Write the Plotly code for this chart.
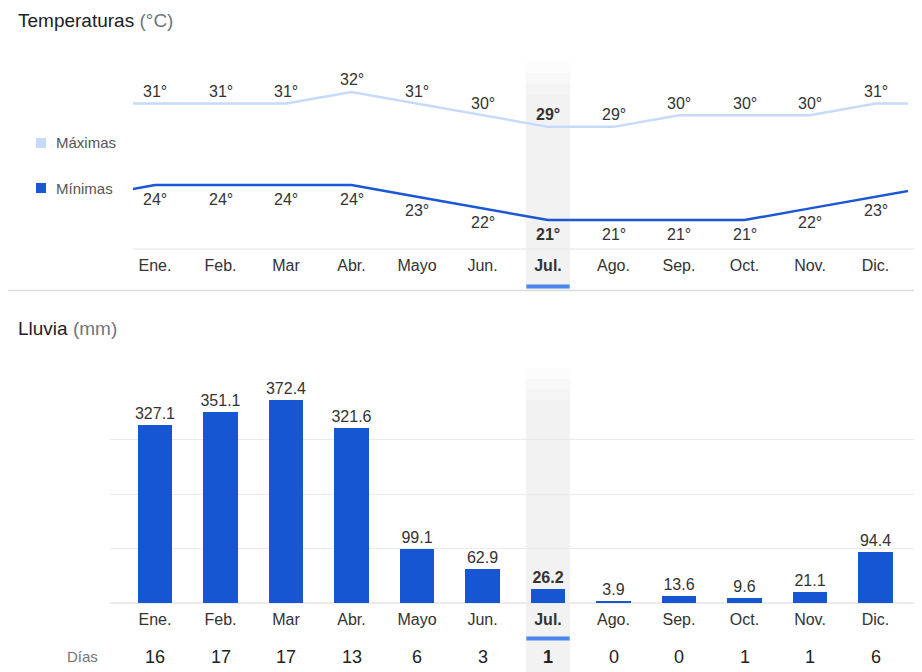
import plotly.graph_objects as go

months = ["Ene.", "Feb.", "Mar", "Abr.", "Mayo", "Jun.", "Jul.", "Ago.", "Sep.", "Oct.", "Nov.", "Dic."]
t_max = [31, 31, 31, 32, 31, 30, 29, 29, 30, 30, 30, 31]
t_min = [24, 24, 24, 24, 23, 22, 21, 21, 21, 21, 22, 23]
rain = [327.1, 351.1, 372.4, 321.6, 99.1, 62.9, 26.2, 3.9, 13.6, 9.6, 21.1, 94.4]
rain_days = [16, 17, 17, 13, 6, 3, 1, 0, 0, 1, 1, 6]
rain_grid = [0, 100, 200, 300]
current = 6  # Jul.

OFF = 8  # page body margin
W, H = 922 - OFF, 672 - OFF
FONT = "Liberation Sans, Arial, sans-serif"
C_MAX = "#c6dafc"
C_MIN = "#1a56d6"
C_BAR = "#1656d2"
C_TXT = "#333333"
C_GREY = "#70757a"


def py(px):
    return 1 - (px - OFF) / H


def fx(px):
    return (px - OFF) / W


def bold(s, i):
    return f"<b>{s}</b>" if i == current else s


idx = list(range(12))
x_ext = [-1] + idx + [12]
max_ext = [t_max[-1]] + t_max + [t_max[0]]
min_ext = [t_min[-1]] + t_min + [t_min[0]]

fig = go.Figure()

# temperature lines
fig.add_trace(go.Scatter(x=x_ext, y=max_ext, mode="lines", line=dict(color=C_MAX, width=2.5),
                         xaxis="x", yaxis="y", hoverinfo="skip", showlegend=False))
fig.add_trace(go.Scatter(x=x_ext, y=min_ext, mode="lines", line=dict(color=C_MIN, width=2.5),
                         xaxis="x", yaxis="y", hoverinfo="skip", showlegend=False))

# rain bars
fig.add_trace(go.Bar(x=idx, y=rain, width=0.53, marker=dict(color=C_BAR, line=dict(width=0)),
                     text=[bold(f"{v:.1f}", i) for i, v in enumerate(rain)],
                     textposition="outside", constraintext="none",
                     textfont=dict(size=16, color=C_TXT, family=FONT),
                     cliponaxis=False, xaxis="x2", yaxis="y2", showlegend=False))

ticktext = [bold(m, i) for i, m in enumerate(months)]

top_lo, top_hi = 18.51, 34.57
fig.update_layout(
    width=W, height=H, autosize=False,
    margin=dict(l=0, r=0, t=0, b=0),
    paper_bgcolor="white", plot_bgcolor="rgba(0,0,0,0)",
    font=dict(family=FONT, color=C_TXT),
    xaxis=dict(domain=[fx(133), fx(908)], range=[(133 - 155) / 65.5, (908 - 155) / 65.5],
               tickvals=idx, ticktext=ticktext, ticks="", showgrid=False, zeroline=False,
               showline=False, tickfont=dict(size=16, color=C_TXT), ticklabelstandoff=5,
               fixedrange=True),
    yaxis=dict(domain=[py(249), py(62)], range=[top_lo, top_hi], visible=False, fixedrange=True),
    xaxis2=dict(domain=[fx(110), 1], range=[(110 - 155) / 65.5, (922 - 155) / 65.5],
                tickvals=idx, ticktext=ticktext, ticks="", showgrid=False, zeroline=False,
                showline=False, tickfont=dict(size=16, color=C_TXT), ticklabelstandoff=5,
                anchor="y2", fixedrange=True),
    yaxis2=dict(domain=[py(603), py(330)], range=[0, 273 / 0.545], anchor="x2",
                showgrid=True, gridcolor="#ebebeb", gridwidth=1.2, tickvals=rain_grid,
                zeroline=True, zerolinecolor="#ebebeb", zerolinewidth=1.5,
                showticklabels=False, ticks="", fixedrange=True),
    bargap=0,
)

shapes = []
half = 0.34
# highlight band for current month (top)
shapes.append(dict(type="rect", xref="x", yref="paper", x0=current - half, x1=current + half,
                   y0=py(290), y1=py(95), fillcolor="#f2f2f2", line=dict(width=0), layer="below"))
for k, a in enumerate([0.25, 0.5, 0.75]):
    shapes.append(dict(type="rect", xref="x", yref="paper", x0=current - half, x1=current + half,
                       y0=py(62 + 11 * (k + 1)), y1=py(62 + 11 * k),
                       fillcolor=f"rgba(242,242,242,{a})", line=dict(width=0), layer="below"))
# highlight band for current month (bottom)
shapes.append(dict(type="rect", xref="x2", yref="paper", x0=current - half, x1=current + half,
                   y0=0, y1=py(400), fillcolor="#f2f2f2", line=dict(width=0), layer="below"))
for k, a in enumerate([0.25, 0.5, 0.75]):
    shapes.append(dict(type="rect", xref="x2", yref="paper", x0=current - half, x1=current + half,
                       y0=py(368 + 11 * (k + 1)), y1=py(368 + 11 * k),
                       fillcolor=f"rgba(242,242,242,{a})", line=dict(width=0), layer="below"))
# axis line top
shapes.append(dict(type="line", xref="paper", yref="paper", x0=fx(133), x1=1, y0=py(249), y1=py(249),
                   line=dict(color="#ececec", width=1.5)))
# divider
shapes.append(dict(type="line", xref="paper", yref="paper", x0=0, x1=1, y0=py(290.5), y1=py(290.5),
                   line=dict(color="#dcdcdc", width=1.5)))
# current month underline
shapes.append(dict(type="rect", xref="x", yref="paper", x0=current - 0.33, x1=current + 0.33,
                   y0=py(288.5), y1=py(284.5), fillcolor="#4a86ee", line=dict(width=0)))
shapes.append(dict(type="rect", xref="x2", yref="paper", x0=current - 0.33, x1=current + 0.33,
                   y0=py(640.5), y1=py(636.5), fillcolor="#4a86ee", line=dict(width=0)))
# legend squares
shapes.append(dict(type="rect", xref="paper", yref="paper", x0=fx(36), x1=fx(46), y0=py(148), y1=py(138),
                   fillcolor=C_MAX, line=dict(width=0)))
shapes.append(dict(type="rect", xref="paper", yref="paper", x0=fx(36), x1=fx(46), y0=py(193), y1=py(183),
                   fillcolor=C_MIN, line=dict(width=0)))
fig.update_layout(shapes=shapes)

ann = [
    dict(text=f"Temperaturas <span style='color:{C_GREY}'>(°C)</span>", x=fx(16), y=py(20),
         font=dict(size=19, color="#202124")),
    dict(text=f"Lluvia <span style='color:{C_GREY}'>(mm)</span>", x=fx(16), y=py(328),
         font=dict(size=19, color="#202124")),
    dict(text="Máximas", x=fx(54), y=py(143), font=dict(size=15, color="#555555")),
    dict(text="Mínimas", x=fx(54), y=py(188), font=dict(size=15, color="#555555")),
    dict(text="Días", x=fx(65), y=py(656), font=dict(size=15, color=C_GREY)),
]
for a in ann:
    a.update(xref="paper", yref="paper", xanchor="left", yanchor="middle", showarrow=False)
# temperature value labels
for i in idx:
    ann.append(dict(text=bold(f"{t_max[i]}°", i), x=i, y=t_max[i], xref="x", yref="y",
                    xanchor="center", yanchor="middle", yshift=12, showarrow=False,
                    font=dict(size=16, color=C_TXT)))
    ann.append(dict(text=bold(f"{t_min[i]}°", i), x=i, y=t_min[i], xref="x", yref="y",
                    xanchor="center", yanchor="middle", yshift=-14, showarrow=False,
                    font=dict(size=16, color=C_TXT)))
# rain days row
for i, d in enumerate(rain_days):
    ann.append(dict(text=bold(str(d), i), x=i, xref="x2", y=py(657), yref="paper",
                    xanchor="center", yanchor="middle", showarrow=False,
                    font=dict(size=18, color="#222222")))
fig.update_layout(annotations=ann)

fig.write_html("out.html")
